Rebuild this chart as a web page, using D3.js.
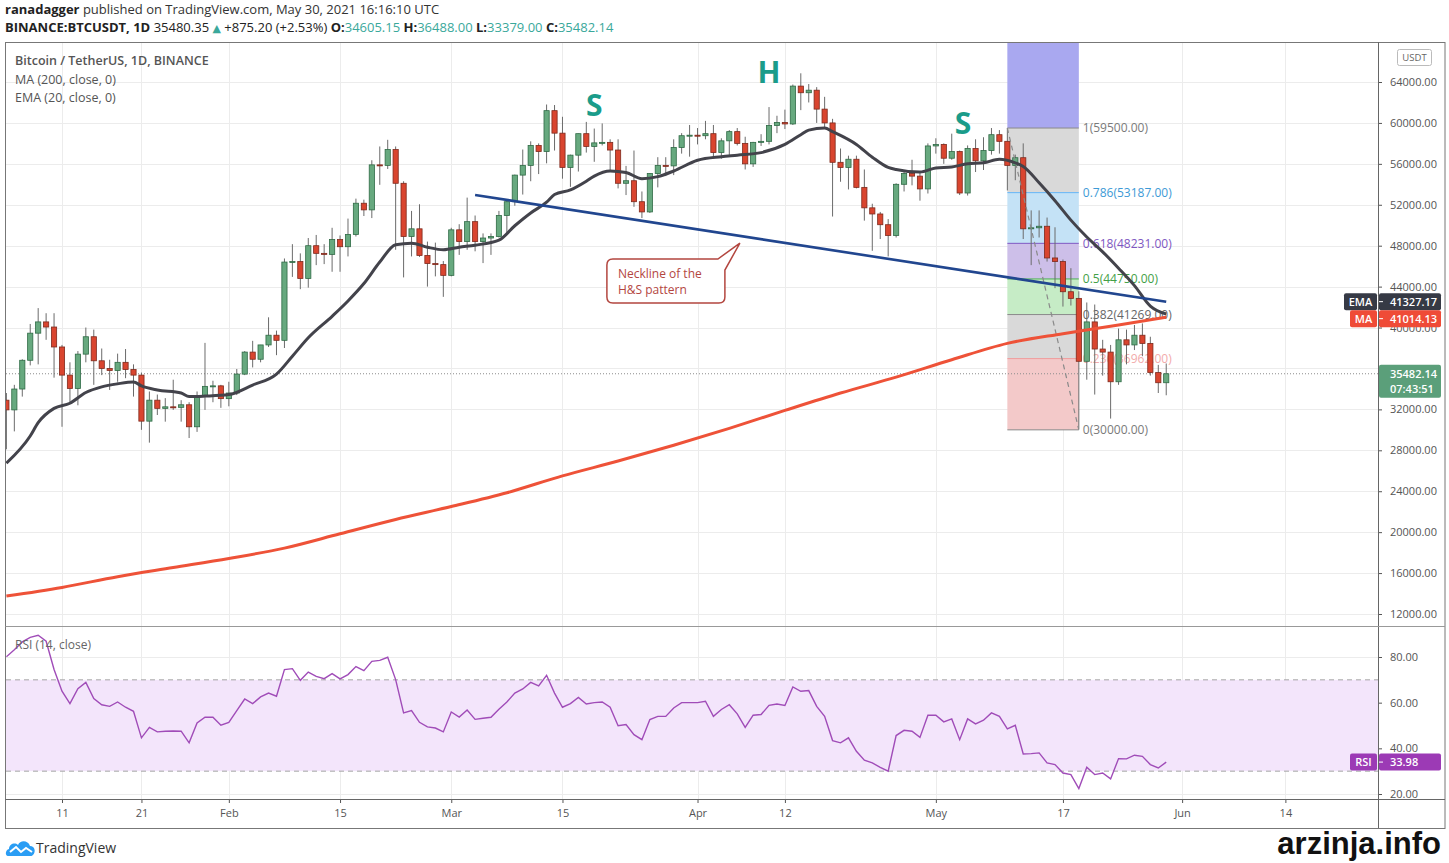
<!DOCTYPE html>
<html lang="en">
<head>
<meta charset="UTF-8">
<title>BTCUSDT 1D - Head and shoulders</title>
<script src="https://cdn.jsdelivr.net/npm/d3@7/dist/d3.min.js"></script>
<style>
  html, body {margin: 0; background: #fff; overflow: hidden}
  svg {display: block; font-family: 'Open Sans', 'DejaVu Sans', sans-serif}
</style>
</head>
<body>
<svg id="chart" width="1449" height="863"></svg>
<script>
// ---- data (daily candles, 2021-01-04 .. 2021-05-30) ----
const firstDay = '2021-01-04';
const opens = [
  32900,31950,33990,36800,39450,40550,40050,38100,35350,34050,37400,39100,36750,36000,35800,36600,35900,35350,30850,32900,32100,32250,32200,32450,30300,33250,34250,34300,
  33050,33600,35450,37600,36900,38300,39250,38750,46400,46450,44800,48000,47250,47150,48600,47900,49100,52150,51500,55900,55850,57400,54100,48900,49650,47050,46250,46150,
  45100,49550,48400,50350,48400,48750,48900,50950,52300,54900,55850,57800,57200,61200,59000,55650,56850,58950,57700,58050,58100,57350,54100,54350,52300,51300,55050,55850,55800,57600,58750,
  58800,58750,58950,57100,58250,59150,58000,56000,58100,58200,59750,60050,59900,63600,62950,63200,61350,60000,56150,55650,56450,53700,51700,51100,50050,49000,54000,55050,54800,53550,
  57750,57900,56550,57200,53150,57500,56300,57300,58850,58200,55850,56600,49650,49750,49900,46800,46450,43500,42850,36700,40550,37900,37600,34700,38800,38300,39250,38450,35600,34605.15
];
const highs = [
  33600,34400,36900,40350,41900,41400,41400,38300,36600,37700,40000,39800,37950,36850,37450,37900,36400,35600,33750,33450,33100,34900,32900,32700,33750,38500,34800,34400,
  34700,35950,37700,38700,38300,41000,39700,46750,48150,47250,48750,49050,48150,49750,49000,50650,52600,52500,56350,57700,58350,57700,54300,51400,52050,48400,48300,46500,
  49750,50100,52700,50950,49200,49200,51400,52400,54950,57400,58200,58000,61800,61750,60600,56900,58950,60100,59450,59950,58400,58400,55800,57300,53300,55100,56650,56650,58400,59000,59800,
  59500,60200,59800,58500,59300,59500,58650,58150,58900,61550,60700,61300,63750,64850,63800,63500,62550,60400,57500,56800,56800,55450,52100,51300,50600,54100,55300,56400,55200,58000,
  58500,58000,58950,57300,57800,58400,58600,59500,59300,59500,56900,58000,51450,51450,50750,49800,46650,45800,43550,42450,42250,38800,38300,39900,39800,40250,40400,39100,36350,36488
];
const lows = [
  28100,29850,33250,36300,36400,38800,35100,30300,32700,32400,36600,34400,35350,33900,34700,35050,33250,30000,28750,31450,30800,31950,30800,29200,29800,31950,32700,32150,
  32300,33400,35350,36100,36600,38100,37300,38000,44950,43750,43900,46100,46200,45450,45450,46950,48900,50900,50700,53950,55500,47600,44900,46950,46900,44000,45000,43000,
  45000,47100,47600,47450,46300,47100,48800,49300,51900,53000,54300,55000,56050,57300,54550,53750,55250,57100,56200,57800,55400,53600,52950,51800,50700,51200,53700,54800,54900,57000,56700,
  57900,58400,56700,56500,56800,57800,55450,55700,57750,57900,59000,59400,59800,61250,62000,60000,59600,50850,54250,53500,53600,50450,47500,48650,46950,48800,53300,53900,52400,53100,
  57000,56000,56400,52950,52900,55200,55400,56900,57000,53400,54400,48650,46100,48800,46450,43850,42050,42150,30100,34900,33450,35300,31100,34400,36400,37800,37200,35300,33600,33379
];
const closes = [
  31950,33990,36800,39450,40550,40050,38100,35350,34050,37400,39100,36750,36000,35800,36600,35900,35350,30850,32900,32100,32250,32200,32450,30300,33250,34250,34300,33050,
  33600,35450,37600,36900,38300,39250,38750,46400,46450,44800,48000,47250,47150,48600,47900,49100,52150,51500,55900,55850,57400,54100,48900,49650,47050,46250,46150,45100,
  49550,48400,50350,48400,48750,48900,50950,52300,54900,55850,57800,57200,61200,59000,55650,56850,58950,57700,58050,58100,57350,54100,54350,52300,51300,55050,55850,55800,57600,58750,58800,
  58750,58950,57100,58250,59150,58000,56000,58100,58200,59750,60050,59900,63600,62950,63200,61350,60000,56150,55650,56450,53700,51700,51100,50050,49000,54000,55050,54800,53550,57750,
  57900,56550,57200,53150,57500,56300,57300,58850,58200,55850,56600,49650,49750,49900,46800,46450,43500,42850,36700,40550,37900,37600,34700,38800,38300,39250,38450,35600,34605.15,35482.14
];
// RSI (14, close), one value per candle
const rsi = [
  80.1,83.2,86.6,88.6,89.5,86.9,74.5,65.0,59.6,66.1,
  68.9,61.8,59.1,58.4,60.3,58.0,56.2,44.6,49.2,47.2,
  47.5,47.6,47.5,42.4,51.1,53.6,53.6,50.1,51.4,56.5,
  61.6,59.6,62.5,64.2,62.8,74.5,74.9,69.8,73.4,71.5,
  70.5,72.7,70.4,72.3,75.8,74.0,78.1,78.5,79.9,70.1,
  55.5,56.5,51.4,49.4,48.9,47.2,55.9,53.7,56.8,52.7,
  53.2,53.6,57.1,60.3,64.2,66.0,68.9,67.3,72.0,64.2,
  58.0,59.6,62.3,59.4,60.0,60.3,58.0,49.9,50.4,46.0,
  43.8,52.6,54.0,54.0,57.7,60.0,60.0,60.0,60.6,54.0,
  57.0,59.1,55.1,49.2,54.5,54.8,58.8,59.4,58.8,66.9,
  65.0,65.3,58.4,54.0,43.4,42.4,44.6,38.7,34.8,33.6,
  31.7,30.0,45.6,47.9,47.5,44.8,54.5,54.5,51.6,52.9,
  43.8,52.9,50.7,52.3,55.5,54.0,48.5,50.1,37.5,37.7,
  38.0,33.6,32.9,29.2,28.5,22.4,31.7,28.5,29.2,26.6,
  35.5,35.4,37.0,36.5,32.9,31.4,33.98
];
// EMA (20)
const emaDates = ['2021-01-04','2021-01-07','2021-01-08','2021-01-10','2021-01-12','2021-01-14','2021-01-16','2021-01-18','2021-01-20','2021-01-21',
  '2021-01-23','2021-01-26','2021-01-27','2021-01-29','2021-02-01','2021-02-04','2021-02-07','2021-02-09','2021-02-11','2021-02-14',
  '2021-02-16','2021-02-18','2021-02-20','2021-02-22','2021-02-24','2021-02-26','2021-02-28','2021-03-02','2021-03-04','2021-03-07',
  '2021-03-09','2021-03-11','2021-03-13','2021-03-14','2021-03-16','2021-03-18','2021-03-19','2021-03-21','2021-03-23','2021-03-25',
  '2021-03-27','2021-03-29','2021-04-01','2021-04-04','2021-04-06','2021-04-09','2021-04-12','2021-04-14','2021-04-15','2021-04-17',
  '2021-04-18','2021-04-21','2021-04-23','2021-04-25','2021-04-26','2021-04-29','2021-05-01','2021-05-03','2021-05-05','2021-05-07',
  '2021-05-09','2021-05-11','2021-05-12','2021-05-14','2021-05-16','2021-05-18','2021-05-20','2021-05-22','2021-05-24','2021-05-26',
  '2021-05-28','2021-05-30'];
const emaValues = [26750,29400,30700,32100,32600,33650,34200,34500,34680,34300,
  33900,33600,33250,33300,33450,34380,35450,37200,39000,41100,
  42600,44300,46400,48100,48250,47850,47600,47850,48050,48550,
  49950,51200,52250,53000,53450,54300,54800,55300,55150,54550,
  54750,55300,56350,56700,56850,57100,57900,58850,59300,59500,
  59150,57900,56650,55650,55450,55200,55600,55700,56000,56100,
  56450,56100,55750,54150,52400,50500,48850,47400,45800,44100,
  42100,41327.17];
// MA (200)
const maDates = ['2021-01-04','2021-01-11','2021-01-18','2021-01-25','2021-02-01','2021-02-08','2021-02-15','2021-02-22','2021-03-01','2021-03-08',
  '2021-03-15','2021-03-22','2021-03-29','2021-04-05','2021-04-12','2021-04-19','2021-04-26','2021-05-03','2021-05-10','2021-05-17',
  '2021-05-24','2021-05-30'];
const maValues = [13750,14600,15650,16540,17430,18440,19840,21240,22500,23850,
  25500,26950,28500,30150,31900,33600,35150,36850,38450,39400,
  40250,41014.13];
// price / RSI / date ticks
const priceTicks = [12000,16000,20000,24000,28000,32000,36000,40000,44000,48000,52000,56000,60000,64000];
const priceLabels = priceTicks.filter(p => p !== 36000); // 36000 sits under the last-price tag
const rsiTicks = [20,40,60,80];
const dateTicks = ['2021-01-11','2021-01-21','2021-02-01','2021-02-15','2021-03-01','2021-03-15','2021-04-01','2021-04-12','2021-05-01','2021-05-17','2021-06-01','2021-06-14'];
const dateLabels = ['11','21','Feb','15','Mar','15','Apr','12','May','17','Jun','14'];
// drawings
const necklineDates = ['2021-03-04','2021-05-30'];
const necklinePrices = [52950,42520];
const shoulderText = ['S','H','S'];
const shoulderDates = ['2021-03-19','2021-04-10','2021-05-04T10:00'];
const shoulderPrices = [60700,63900,58900];
const fibDates = ['2021-05-10','2021-05-19'];
const fibHigh = 59500, fibLow = 30000;
const fibRatios = [1,0.786,0.618,0.5,0.382,0.236,0];
const fibFill = ['#d9d9d9','#c4e2f6','#cdbfe9','#c6ecc6','#d9d9d9','#f3c9c9'];
const fibLine = ['#8a8a8a','#64b5f6','#7e57c2','#4caf50','#8a8a8a','#ef9a9a','#8a8a8a'];
const fibText = ['#7a7a7a','#3d9ad6','#7e57c2','#43a047','#666666','#f2abab','#7a7a7a'];
const lastPrice = 35482.14, lastEma = 41327.17, lastMa = 41014.13, lastRsi = 33.98;

// ---- layout ----
const paneL = 6, paneR = 1378, mainT = 42, mainB = 626, rsiT = 627, rsiB = 799, frameR = 1445, frameB = 828;
const parse = d3.isoParse;
const start = parse(firstDay);
const days = d3.utcDay.range(start, d3.utcDay.offset(start, opens.length));
const hour = 3600e3;

const x = d3.scaleUtc()
  .domain([new Date(+start - 1.2 * hour), new Date(+start + 4143.8 * hour)])
  .range([paneL, paneR]);
const y = d3.scaleLinear().domain([12000, 64000]).range([614, 82]);
const ry = d3.scaleLinear().domain([20, 80]).range([794, 657]);

const svg = d3.select('#chart');
svg.append('rect').attr('width', 1449).attr('height', 863).attr('fill', '#fff');

const defs = svg.append('defs');
defs.append('clipPath').attr('id', 'mainClip').append('rect')
  .attr('x', paneL).attr('y', mainT).attr('width', paneR - paneL).attr('height', mainB - mainT);
defs.append('clipPath').attr('id', 'rsiClip').append('rect')
  .attr('x', paneL).attr('y', rsiT).attr('width', paneR - paneL).attr('height', rsiB - rsiT);

// ---- header ----
const head1 = svg.append('text').attr('x', 5).attr('y', 14).attr('font-size', 13).attr('fill', '#333');
head1.append('tspan').attr('font-weight', 'bold').attr('fill', '#222').text('ranadagger');
head1.append('tspan').text(' published on TradingView.com, May 30, 2021 16:16:10 UTC');

const teal = '#3aa89b';
const head2 = svg.append('text').attr('x', 5).attr('y', 32).attr('font-size', 13).attr('fill', '#222');
head2.append('tspan').attr('font-weight', 'bold').text('BINANCE:BTCUSDT, 1D');
head2.append('tspan').text(' 35480.35 ');
head2.append('tspan').attr('fill', teal).attr('font-size', 11).text('▲');
head2.append('tspan').text(' +875.20 (+2.53%) ');
[['O:', '34605.15'], ['H:', '36488.00'], ['L:', '33379.00'], ['C:', '35482.14']].forEach(([k, v], i) => {
  head2.append('tspan').attr('font-weight', 'bold').text((i ? ' ' : '') + k);
  head2.append('tspan').attr('fill', teal).text(v);
});

// ---- grid ----
const grid = svg.append('g').attr('stroke', '#ececec').attr('stroke-width', 1);
priceTicks.forEach(p => grid.append('line')
  .attr('x1', paneL).attr('x2', paneR).attr('y1', Math.round(y(p)) + 0.5).attr('y2', Math.round(y(p)) + 0.5));
rsiTicks.forEach(v => grid.append('line')
  .attr('x1', paneL).attr('x2', paneR).attr('y1', Math.round(ry(v)) + 0.5).attr('y2', Math.round(ry(v)) + 0.5));
dateTicks.forEach(d => {
  const gx = Math.round(x(parse(d))) + 0.5;
  grid.append('line').attr('x1', gx).attr('x2', gx).attr('y1', mainT).attr('y2', rsiB);
});

// ---- main pane ----
const main = svg.append('g').attr('clip-path', 'url(#mainClip)');

// fibonacci retracement
const fx0 = x(parse(fibDates[0])), fx1 = x(parse(fibDates[1]));
const fibLevels = fibRatios.map(r => fibLow + r * (fibHigh - fibLow));
main.append('rect').attr('x', fx0).attr('width', fx1 - fx0)
  .attr('y', mainT).attr('height', y(fibHigh) - mainT).attr('fill', '#a9a8f0');
fibLevels.slice(0, -1).forEach((lv, i) => {
  main.append('rect').attr('x', fx0).attr('width', fx1 - fx0)
    .attr('y', y(lv)).attr('height', y(fibLevels[i + 1]) - y(lv)).attr('fill', fibFill[i]);
});
fibLevels.forEach((lv, i) => {
  main.append('line').attr('x1', fx0).attr('x2', fx1).attr('y1', y(lv)).attr('y2', y(lv))
    .attr('stroke', fibLine[i]).attr('stroke-width', 1);
  main.append('text').attr('x', fx1 + 4).attr('y', y(lv)).attr('dy', '0.35em')
    .attr('font-size', 12).attr('fill', fibText[i])
    .text(`${fibRatios[i]}(${lv.toFixed(2)})`);
});

// last price dotted line
main.append('line').attr('x1', paneL).attr('x2', paneR)
  .attr('y1', y(lastPrice)).attr('y2', y(lastPrice))
  .attr('stroke', '#8d8d8d').attr('stroke-dasharray', '1,2');

// candles
const candles = main.append('g');
days.forEach((d, i) => {
  const cx = x(d), up = closes[i] >= opens[i];
  candles.append('line').attr('x1', cx).attr('x2', cx)
    .attr('y1', y(highs[i])).attr('y2', y(lows[i]))
    .attr('stroke', '#6b6b6b').attr('stroke-width', 1);
  const top = y(Math.max(opens[i], closes[i])), bot = y(Math.min(opens[i], closes[i]));
  candles.append('rect').attr('x', cx - 2.6).attr('width', 5.2)
    .attr('y', top).attr('height', Math.max(1, bot - top))
    .attr('fill', up ? '#67a97f' : '#d9452f')
    .attr('stroke', up ? '#2f6a45' : '#7e2a1d').attr('stroke-width', 0.8);
});

// fib trend line (dashed)
main.append('line')
  .attr('x1', fx0).attr('y1', y(fibHigh)).attr('x2', fx1).attr('y2', y(fibLow))
  .attr('stroke', '#8a8a8a').attr('stroke-width', 1.2).attr('stroke-dasharray', '5,4');

// moving averages
const line = d3.line().x(p => x(p[0])).y(p => y(p[1])).curve(d3.curveMonotoneX);
main.append('path').datum(maDates.map((d, i) => [parse(d), maValues[i]]))
  .attr('d', line).attr('fill', 'none').attr('stroke', '#ee5238').attr('stroke-width', 3);
main.append('path').datum(emaDates.map((d, i) => [parse(d), emaValues[i]]))
  .attr('d', line).attr('fill', 'none').attr('stroke', '#43434b').attr('stroke-width', 3);

// neckline
main.append('line')
  .attr('x1', x(parse(necklineDates[0]))).attr('y1', y(necklinePrices[0]))
  .attr('x2', x(parse(necklineDates[1]))).attr('y2', y(necklinePrices[1]))
  .attr('stroke', '#21468f').attr('stroke-width', 2.6);

// S / H / S labels
shoulderText.forEach((t, i) => {
  main.append('text').attr('x', x(parse(shoulderDates[i]))).attr('y', y(shoulderPrices[i]))
    .attr('text-anchor', 'middle').attr('font-size', 30).attr('font-weight', 'bold')
    .attr('fill', '#1a9c8a').text(t);
});

// callout
const tipX = x(parse('2021-04-06T08:00')), tipY = y(48260);
const bl = tipX - 133, bt = tipY + 16, bw = 118, bh = 44, r = 6;
main.append('path')
  .attr('d', `M${bl + r},${bt} L${bl + 111},${bt} L${tipX},${tipY} L${bl + bw},${bt + 11}
    L${bl + bw},${bt + bh - r} Q${bl + bw},${bt + bh} ${bl + bw - r},${bt + bh}
    L${bl + r},${bt + bh} Q${bl},${bt + bh} ${bl},${bt + bh - r}
    L${bl},${bt + r} Q${bl},${bt} ${bl + r},${bt} Z`)
  .attr('fill', '#fff').attr('stroke', '#b3463f').attr('stroke-width', 1.5);
const note = main.append('text').attr('font-size', 12).attr('fill', '#b3463f');
note.append('tspan').attr('x', bl + 11).attr('y', bt + 19).text('Neckline of the');
note.append('tspan').attr('x', bl + 11).attr('y', bt + 35).text('H&S pattern');

// legend
const legend = svg.append('g').attr('font-size', 12.5).attr('fill', '#555');
legend.append('text').attr('x', 15).attr('y', 65).attr('font-weight', 600).text('Bitcoin / TetherUS, 1D, BINANCE');
legend.append('text').attr('x', 15).attr('y', 84).text('MA (200, close, 0)');
legend.append('text').attr('x', 15).attr('y', 102).text('EMA (20, close, 0)');

// ---- RSI pane ----
const rsiG = svg.append('g').attr('clip-path', 'url(#rsiClip)');
rsiG.append('rect').attr('x', paneL).attr('width', paneR - paneL)
  .attr('y', ry(70)).attr('height', ry(30) - ry(70)).attr('fill', '#f3e5fb');
[70, 30].forEach(v => rsiG.append('line').attr('x1', paneL).attr('x2', paneR)
  .attr('y1', ry(v)).attr('y2', ry(v)).attr('stroke', '#a5a5a5').attr('stroke-dasharray', '5,4'));
rsiG.append('path').datum(rsi)
  .attr('d', d3.line().x((v, i) => x(days[i])).y(v => ry(v)))
  .attr('fill', 'none').attr('stroke', '#a04cb8').attr('stroke-width', 1.4);
svg.append('text').attr('x', 15).attr('y', 649).attr('font-size', 12).attr('fill', '#666').text('RSI (14, close)');

// ---- axes ----
const axisStyle = g => {
  g.select('.domain').remove();
  g.selectAll('line').attr('stroke', '#555');
  g.selectAll('text').attr('fill', '#555').attr('font-size', 11).attr('font-family', "'Open Sans', sans-serif");
};
svg.append('g').attr('transform', `translate(${paneR},0)`)
  .call(d3.axisRight(y).tickValues(priceLabels).tickSize(4).tickPadding(8).tickFormat(d3.format('.2f')))
  .call(axisStyle);
svg.append('g').attr('transform', `translate(${paneR},0)`)
  .call(d3.axisRight(ry).tickValues(rsiTicks).tickSize(4).tickPadding(8).tickFormat(d3.format('.2f')))
  .call(axisStyle);
svg.append('g').attr('transform', `translate(0,${rsiB})`)
  .call(d3.axisBottom(x).tickValues(dateTicks.map(parse)).tickSize(4).tickPadding(6)
    .tickFormat((d, i) => dateLabels[i]))
  .call(axisStyle);

// ---- frame ----
const frame = svg.append('g').attr('fill', 'none');
frame.append('rect').attr('x', 5.5).attr('y', mainT + 0.5).attr('width', frameR - 5.5).attr('height', frameB - mainT)
  .attr('stroke', '#777');
frame.append('line').attr('x1', paneR + 0.5).attr('x2', paneR + 0.5).attr('y1', mainT).attr('y2', frameB).attr('stroke', '#666');
frame.append('line').attr('x1', 5.5).attr('x2', frameR).attr('y1', mainB + 0.5).attr('y2', mainB + 0.5).attr('stroke', '#999');
frame.append('line').attr('x1', 5.5).attr('x2', frameR).attr('y1', rsiB + 0.5).attr('y2', rsiB + 0.5).attr('stroke', '#666');

// USDT tag
svg.append('rect').attr('x', 1397.5).attr('y', 49.5).attr('width', 34).attr('height', 16).attr('rx', 2)
  .attr('fill', '#fff').attr('stroke', '#bbb');
svg.append('text').attr('x', 1414.5).attr('y', 61).attr('text-anchor', 'middle').attr('font-size', 9.5).attr('fill', '#666').text('USDT');

// ---- price badges ----
function badge(cy, color, value, name, nameW) {
  const g = svg.append('g');
  if (name) {
    g.append('rect').attr('x', paneR - nameW).attr('y', cy - 8.5).attr('width', nameW - 1).attr('height', 17).attr('rx', 2).attr('fill', color);
    g.append('text').attr('x', paneR - nameW / 2 - 0.5).attr('y', cy).attr('dy', '0.35em').attr('text-anchor', 'middle')
      .attr('font-size', 11).attr('font-weight', 600).attr('fill', '#fff').text(name);
  }
  g.append('rect').attr('x', paneR + 1).attr('y', cy - 8.5).attr('width', 62).attr('height', 17).attr('rx', 2).attr('fill', color);
  g.append('line').attr('x1', paneR + 1).attr('x2', paneR + 5).attr('y1', cy).attr('y2', cy).attr('stroke', '#fff');
  g.append('text').attr('x', paneR + 12).attr('y', cy).attr('dy', '0.35em')
    .attr('font-size', 11).attr('font-weight', 600).attr('fill', '#fff').text(value);
  return g;
}
const maY = y(lastMa) + 1.5;
badge(maY - 17, '#363a45', lastEma.toFixed(2), 'EMA', 34);
badge(maY, '#ef4b37', lastMa.toFixed(2), 'MA', 28);
badge(ry(lastRsi), '#9c3ab5', lastRsi.toFixed(2), 'RSI', 28);

const pY = y(lastPrice);
svg.append('rect').attr('x', paneR + 1).attr('y', pY - 9).attr('width', 62).attr('height', 33).attr('rx', 2).attr('fill', '#5b9f7a');
const pTag = svg.append('text').attr('font-size', 11).attr('font-weight', 600).attr('fill', '#fff');
pTag.append('tspan').attr('x', paneR + 12).attr('y', pY + 4).text(lastPrice.toFixed(2));
pTag.append('tspan').attr('x', paneR + 12).attr('y', pY + 19).text('07:43:51');

// ---- footer ----
const logo = svg.append('g').attr('transform', 'translate(6,839)');
logo.append('path')
  .attr('d', 'M2,17 C-1,17 -1,11 3,10 C3,5 9,3 12,6 C14,1 22,1 24,7 C29,7 30,13 27,16 C26,17 25,17 24,17 Z')
  .attr('fill', '#2a9df4');
logo.append('path').attr('d', 'M4,13 L10,8 L15,13 L20,9 L26,13')
  .attr('fill', 'none').attr('stroke', '#fff').attr('stroke-width', 2);
svg.append('text').attr('x', 36).attr('y', 853).attr('font-size', 14).attr('fill', '#333').text('TradingView');

svg.append('text').attr('x', 1441).attr('y', 854).attr('text-anchor', 'end')
  .attr('font-family', "'Liberation Sans', Arial, sans-serif").attr('font-weight', 'bold').attr('font-size', 31)
  .attr('fill', '#111').text('arzinja.info');
</script>
</body>
</html>
